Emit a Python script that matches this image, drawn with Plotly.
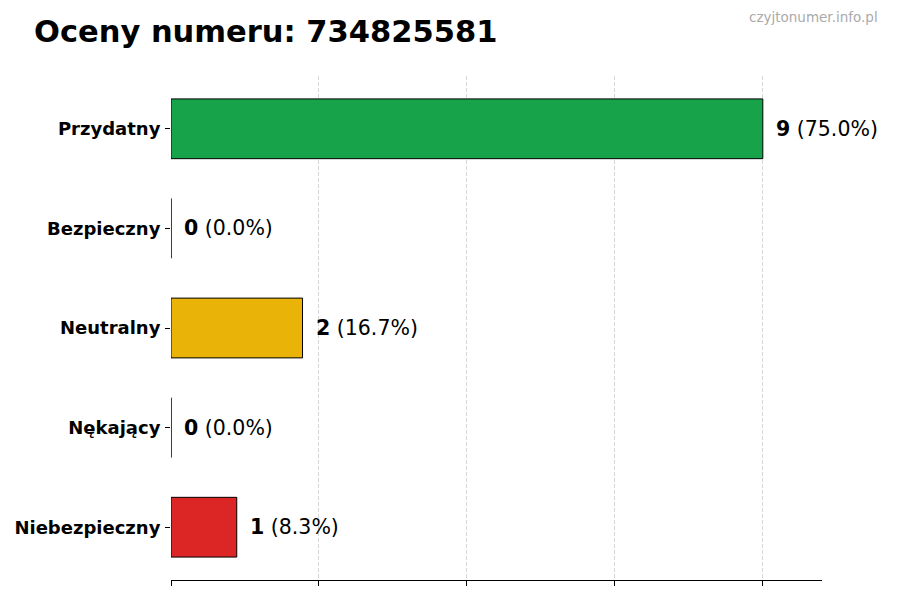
import plotly.graph_objects as go

categories = ["Przydatny", "Bezpieczny", "Neutralny", "Nękający", "Niebezpieczny"]
counts = [9, 0, 2, 0, 1]
colors = ["#16a34a", "#22c55e", "#eab308", "#f97316", "#dc2626"]
x_ticks = [0, 2.25, 4.5, 6.75, 9]
title_text = "Oceny numeru: 734825581"
watermark = "czyjtonumer.info.pl"

total = sum(counts)
FONT = "DejaVu Sans"

# page body has an 8px margin; size figure so it fills the 900x600 window
OFF = 8
W, H = 900 - OFF, 600 - OFF
L, R, T, B = 171 - OFF, 78, 76 - OFF, 20
PW = W - L - R
PH = H - T - B

fig = go.Figure()
fig.add_trace(go.Bar(
    x=counts, y=categories, orientation="h",
    width=0.6,
    marker=dict(color=colors, line=dict(color="black", width=1)),
    hoverinfo="skip",
))

annotations = []
for c, v in zip(categories, counts):
    pct = v / total * 100 if total else 0
    annotations.append(dict(
        x=v, y=c, xref="x", yref="y", xanchor="left", yanchor="middle",
        xshift=11, showarrow=False,
        text=f"<b>{v}</b> ({pct:.1f}%)",
        font=dict(family=FONT, size=20.5, color="black"),
    ))
annotations.append(dict(
    x=(880 - 171) / PW, y=(580 - 17) / PH, xref="paper", yref="paper",
    xanchor="right", yanchor="middle", showarrow=False,
    text=watermark, font=dict(family=FONT, size=13.5, color="#aaaaaa"),
))

fig.update_layout(
    width=W, height=H,
    paper_bgcolor="white", plot_bgcolor="white",
    margin=dict(l=L, r=R, t=T, b=B, autoexpand=False),
    showlegend=False,
    title=dict(text=f"<b>{title_text}</b>", x=(34 - OFF) / W, xanchor="left",
               y=1 - (31 - OFF) / H, yanchor="middle", yref="container",
               font=dict(family=FONT, size=30.5, color="black")),
    annotations=annotations,
    xaxis=dict(range=[0, max(counts) * 1.1], tickvals=x_ticks, showticklabels=False,
               ticks="outside", ticklen=5, tickcolor="black", tickwidth=1,
               showline=True, linecolor="black", linewidth=1,
               showgrid=True, gridcolor="rgba(176,176,176,0.5)", griddash="4px,2px",
               gridwidth=0.8, zeroline=False, layer="above traces"),
    yaxis=dict(categoryorder="array", categoryarray=categories,
               range=[len(categories) - 1 + 0.53, -0.53],
               ticks="outside", ticklen=5, tickcolor="black", tickwidth=1,
               showline=False, showgrid=False, zeroline=False,
               tickfont=dict(family=FONT, size=18, color="black"),
               ticklabelstandoff=1),
    font=dict(family=FONT),
)
fig.update_yaxes(ticktext=[f"<b>{c}</b>" for c in categories], tickvals=categories)

fig.write_html("out.html")
